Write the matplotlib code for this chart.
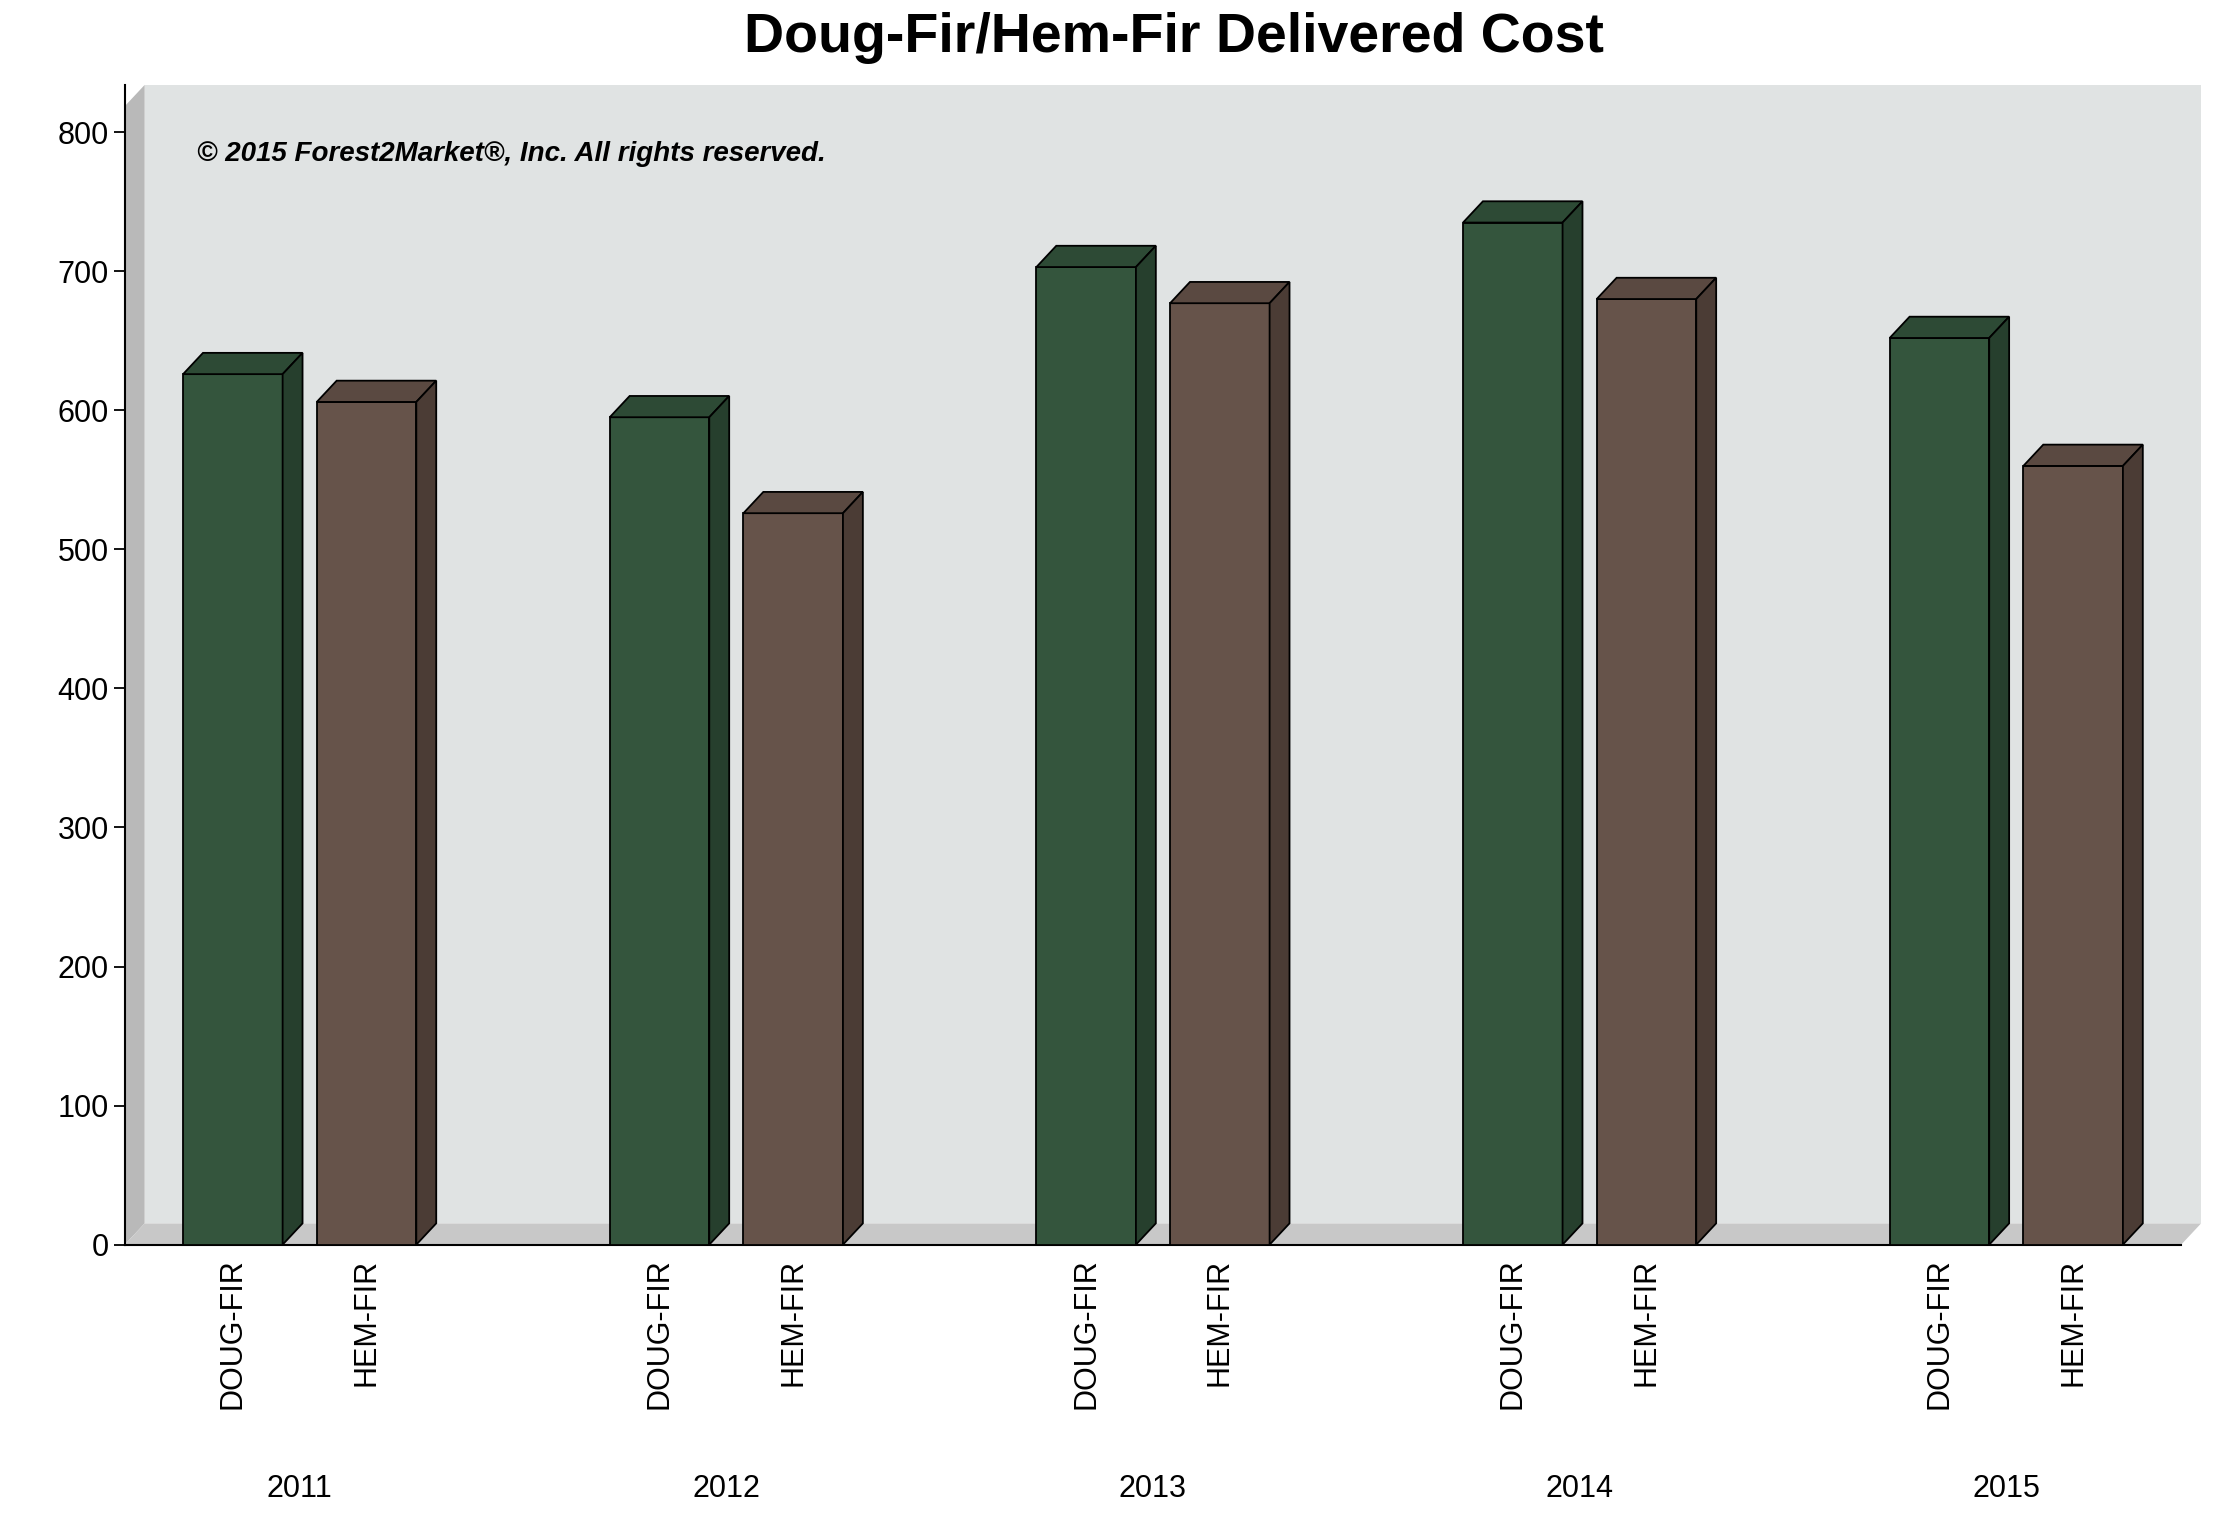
import numpy as np
import matplotlib.pyplot as plt
from matplotlib.patches import Polygon
import matplotlib.transforms as mtransforms

plt.rcParams["font.family"] = "Liberation Sans"

years = ["2011", "2012", "2013", "2014", "2015"]
species = ["DOUG-FIR", "HEM-FIR"]
doug_fir = [626, 595, 703, 735, 652]
hem_fir = [606, 526, 677, 680, 560]
y_ticks = [0, 100, 200, 300, 400, 500, 600, 700, 800]

GREEN = "#34553d"
BROWN = "#66534a"
SIDE = {GREEN: "#263f2d", BROWN: "#4b3c35"}
TOP = {GREEN: "#2d4a35", BROWN: "#5a4941"}

width = 0.70
dx, dy = 0.14, 15.3
xmin, xmax = -0.41, 14.05
ymax = 834

fig = plt.figure(figsize=(22.28, 15.16), dpi=100)
ax = fig.add_axes([0.056, 0.179, 0.923, 0.765])
ax.set_xlim(xmin, xmax)
ax.set_ylim(0, ymax)

# 3D-ish back wall, left wall and floor
ax.add_patch(Polygon([(xmin + dx, dy), (xmax + dx, dy), (xmax + dx, ymax), (xmin + dx, ymax)],
                     closed=True, facecolor="#e0e3e3", edgecolor="none", zorder=0, clip_on=False))
ax.add_patch(Polygon([(xmin, 0), (xmin + dx, dy), (xmin + dx, ymax), (xmin, ymax - dy)],
                     closed=True, facecolor="#b9b9b9", edgecolor="none", zorder=0, clip_on=False))
ax.add_patch(Polygon([(xmin, 0), (xmax, 0), (xmax + dx, dy), (xmin + dx, dy)],
                     closed=True, facecolor="#c8c8c8", edgecolor="none", zorder=0, clip_on=False))

def bar3d(x, h, color):
    ax.add_patch(Polygon([(x, 0), (x + width, 0), (x + width, h), (x, h)], closed=True,
                         facecolor=color, edgecolor="black", lw=1.3, zorder=3))
    ax.add_patch(Polygon([(x, h), (x + width, h), (x + width + dx, h + dy), (x + dx, h + dy)], closed=True,
                         facecolor=TOP[color], edgecolor="black", lw=1.3, zorder=3))
    ax.add_patch(Polygon([(x + width, 0), (x + width + dx, dy), (x + width + dx, h + dy), (x + width, h)],
                         closed=True, facecolor=SIDE[color], edgecolor="black", lw=1.3, zorder=3))

label_x = []
for i, year in enumerate(years):
    g = 3.0 * i
    bar3d(g, doug_fir[i], GREEN)
    bar3d(g + 0.94, hem_fir[i], BROWN)
    label_x += [g + width / 2, g + 0.94 + width / 2]

trans = mtransforms.blended_transform_factory(ax.transData, ax.transAxes)
for j, x in enumerate(label_x):
    ax.text(x, -0.012, species[j % 2], rotation=90, ha="center", va="top",
            fontsize=22, transform=trans)
year_trans = mtransforms.blended_transform_factory(ax.transData, fig.transFigure)
for i, year in enumerate(years):
    ax.text(3.0 * i + 0.82, 0.018, year, ha="center", va="center", fontsize=22, transform=year_trans)

ax.set_yticks(y_ticks)
ax.set_yticklabels([str(v) for v in y_ticks], fontsize=22)
ax.set_xticks([])
ax.tick_params(axis="y", length=8, width=1.3)
for s in ["top", "right"]:
    ax.spines[s].set_visible(False)
ax.spines["left"].set_linewidth(1.5)
ax.spines["bottom"].set_linewidth(1.5)
ax.set_facecolor("white")

ax.text(0.035, 0.94, "© 2015 Forest2Market®, Inc. All rights reserved.", transform=ax.transAxes,
        fontsize=20, fontstyle="italic", fontweight="bold", va="center")
fig.text(0.527, 0.975, "Doug-Fir/Hem-Fir Delivered Cost", ha="center", va="center",
         fontsize=40, fontweight="bold")

fig.savefig("out.png", dpi=100)
